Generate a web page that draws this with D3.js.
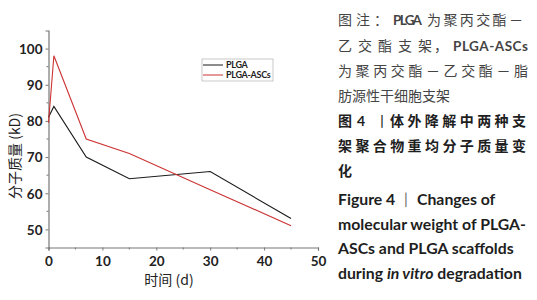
<!DOCTYPE html>
<html>
<head>
<meta charset="utf-8">
<script src="https://cdn.jsdelivr.net/npm/d3@7"></script>
<style>
  body { margin: 0; background: #fff; }
  svg { display: block; }
</style>
</head>
<body>
<div id="chart"></div>
<script>
// Data
const days = [0, 1, 7, 15, 30, 45];
const plga = [81, 84, 70, 64, 66, 53];
const plgaAscs = [79.5, 98, 75, 71, 61, 51];
const seriesNames = ['PLGA', 'PLGA-ASCs'];
const xTicks = [0, 10, 20, 30, 40, 50];
const yTicks = [50, 60, 70, 80, 90, 100];

const width = 537;
const height = 300;

const svg = d3.select('#chart')
  .append('svg')
  .attr('width', width)
  .attr('height', height);

// scales
const x = d3.scaleLinear().domain([0, 50]).range([48.5, 318]);
const y = d3.scaleLinear().domain([45, 105]).range([247.5, 30.5]);

const latin = 'Lato, "Open Sans", sans-serif';
const cjk = '"Noto Sans CJK SC", sans-serif';

// x axis
const xAxis = svg.append('g')
  .attr('transform', `translate(0,${y(45)})`)
  .call(d3.axisBottom(x).tickValues(xTicks).tickSize(3).tickPadding(6));
xAxis.append('g').selectAll('line')
  .data(d3.range(5, 50, 10))
  .join('line')
  .attr('x1', d => x(d)).attr('x2', d => x(d))
  .attr('y1', 0).attr('y2', 2)
  .attr('stroke', '#777');

// y axis
const yAxis = svg.append('g')
  .attr('transform', `translate(${x(0)},0)`)
  .call(d3.axisLeft(y).tickValues(yTicks).tickSize(3).tickPadding(3));
yAxis.append('g').selectAll('line')
  .data(d3.range(55, 105, 10))
  .join('line')
  .attr('y1', d => y(d)).attr('y2', d => y(d))
  .attr('x1', 0).attr('x2', -2)
  .attr('stroke', '#777');

[xAxis, yAxis].forEach(ax => {
  ax.select('.domain').attr('stroke', '#777').attr('stroke-width', 1.2);
  ax.selectAll('.tick line').attr('stroke', '#777');
  ax.selectAll('.tick text')
    .attr('fill', '#222')
    .style('font-family', latin)
    .style('font-weight', 700)
    .style('font-size', '13.5px');
});
yAxis.selectAll('.tick text').attr('dy', '0.36em');

// axis titles
svg.append('text')
  .attr('x', 169).attr('y', 285)
  .attr('text-anchor', 'middle')
  .attr('fill', '#222')
  .style('font-family', cjk)
  .style('font-size', '14px')
  .text('时间 (d)');

svg.append('text')
  .attr('transform', 'translate(20,156) rotate(-90)')
  .attr('text-anchor', 'middle')
  .attr('fill', '#222')
  .style('font-family', cjk)
  .style('font-size', '14px')
  .text('分子质量 (kD)');

// lines
const line = d3.line()
  .x(d => x(d[0]))
  .y(d => y(d[1]));

const series = [
  { name: seriesNames[0], values: plga, color: '#1a1a1a' },
  { name: seriesNames[1], values: plgaAscs, color: '#cc3333' }
];

series.forEach(s => {
  svg.append('path')
    .datum(days.map((d, i) => [d, s.values[i]]))
    .attr('d', line)
    .attr('fill', 'none')
    .attr('stroke', s.color)
    .attr('stroke-width', 1.1);
});

// legend
const legend = svg.append('g');
legend.append('rect')
  .attr('x', 202).attr('y', 59)
  .attr('width', 71).attr('height', 22)
  .attr('fill', '#fff')
  .attr('stroke', '#bbb')
  .attr('stroke-width', 0.8);
series.forEach((s, i) => {
  const ly = 65 + i * 10;
  legend.append('line')
    .attr('x1', 203).attr('x2', 223)
    .attr('y1', ly).attr('y2', ly)
    .attr('stroke', s.color)
    .attr('stroke-width', 1);
  legend.append('text')
    .attr('x', 226).attr('y', ly)
    .attr('dy', '0.35em')
    .attr('fill', '#222')
    .style('font-family', latin)
    .style('font-weight', 700)
    .style('font-size', '9px')
    .style('letter-spacing', '-0.3px')
    .text(s.name);
});

// caption on the right: each piece placed on its own
const cap = svg.append('g');
function seg(t, sx, sy, o = {}) {
  const el = cap.append('text')
    .attr('x', sx).attr('y', sy)
    .attr('dy', '0.36em')
    .attr('fill', o.fill || '#444')
    .style('font-family', o.font || cjk)
    .style('font-weight', o.bold ? 700 : 400)
    .style('font-size', (o.size || 14) + 'px')
    .text(t);
  if (o.len) el.attr('textLength', o.len).attr('lengthAdjust', 'spacing');
  if (o.ls) el.style('letter-spacing', o.ls + 'px');
  return el;
}

// 图注
seg('图注：', 338, 20, { ls: 4 });
seg('PLGA', 393, 20, { font: latin, bold: true, size: 13.5, len: 29 });
seg('为聚丙交酯－', 427, 20, { len: 96 });

seg('乙交酯支架', 338, 46, { len: 94 });
seg('，', 434, 46);
seg('PLGA-ASCs', 453, 46, { font: latin, bold: true, size: 13.5, len: 75 });

seg('为聚丙交酯－乙交酯－脂', 338, 71, { len: 190 });
seg('肪源性干细胞支架', 338, 96);

// 图题
const dark = '#1e1e1e';
seg('图', 338, 121, { bold: true, fill: dark });
seg('4', 357, 121, { font: latin, bold: true, size: 14, fill: dark });
seg('丨', 375, 121, { fill: dark });
seg('体外降解中两种支', 390, 121, { bold: true, fill: dark, len: 136 });
seg('架聚合物重均分子质量变', 338, 146, { bold: true, fill: dark, len: 188 });
seg('化', 338, 171, { bold: true, fill: dark });

// English title
const en = { font: latin, bold: true, size: 15.8, fill: dark };
seg('Figure 4', 338, 199, en);
seg('|', 404, 199, { font: latin, size: 15, fill: '#666' });
seg('Changes of', 417, 199, en);
seg('molecular weight of PLGA-', 338, 224, en);
seg('ASCs and PLGA scaffolds', 338, 248, en);
const last = seg('during ', 338, 273, en);
last.append('tspan').style('font-style', 'italic').text('in vitro');
last.append('tspan').text(' degradation');
last.attr('xml:space', 'preserve');
</script>
</body>
</html>
